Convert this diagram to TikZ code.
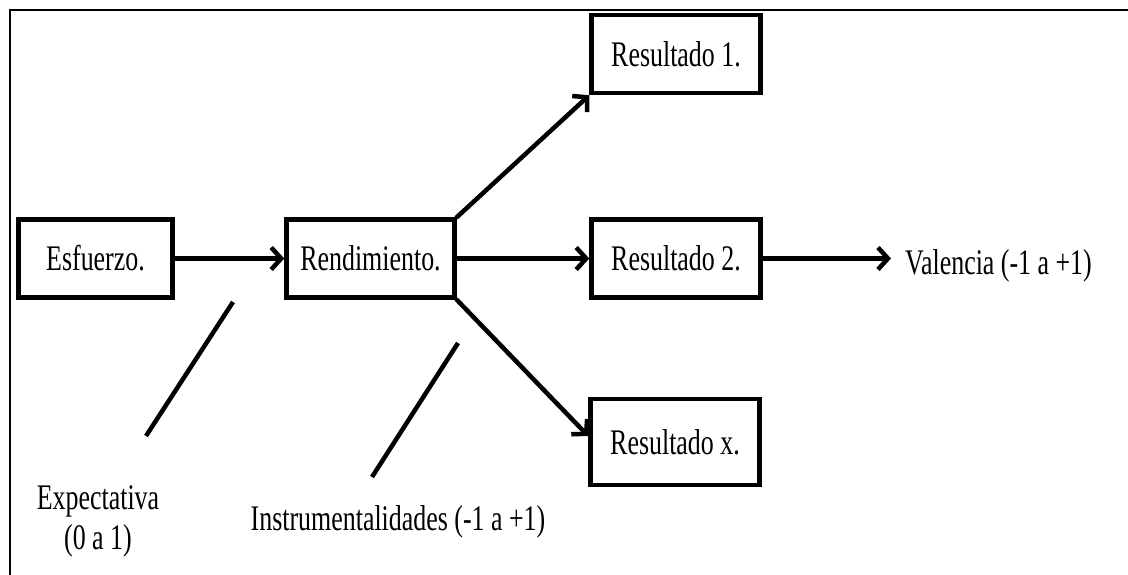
\documentclass[tikz,border=0pt]{standalone}
\usepackage{fontspec}
\setmainfont[FakeStretch=0.72]{Liberation Serif}
\usetikzlibrary{arrows.meta}
\begin{document}
\begin{tikzpicture}[x=1pt,y=-1pt,
  every node/.style={font=\fontsize{36}{40}\selectfont},
  stage/.style={draw,line width=4.5pt,rectangle,minimum height=78pt,inner sep=0pt},
  link/.style={line width=4.5pt,-{Straight Barb[length=10pt,width=22pt,line width=4.5pt]},line cap=round},
  mark line/.style={line width=4.5pt}]
  \useasboundingbox (0,0) rectangle (1128,575);
  % frame, open on the right and at the bottom
  \draw[line width=2pt] (10,575) -- (10,10) -- (1128,10);

  % stages of the model
  \node[stage,minimum width=154pt] (esf) at (95.5,258.5) {Esfuerzo.};
  \node[stage,minimum width=168pt] (ren) at (370.5,258.5) {Rendimiento.};
  \node[stage,minimum width=169pt] (r1) at (676,54) {Resultado 1.};
  \node[stage,minimum width=169pt] (r2) at (676,258.5) {Resultado 2.};
  \node[stage,minimum width=169pt,minimum height=86pt] (rx) at (675,442) {Resultado x.};
  \node[anchor=west,inner sep=0pt] (val) at (905,266) {Valencia (-1 a +1)};

  % links between stages
  \draw[link] (esf.east) -- (ren.west);
  \draw[link] (ren.east) -- (r2.west);
  \draw[link] (ren.north east) -- (r1.south west);
  \draw[link] (ren.south east) -- ([yshift=6pt]rx.west);
  \draw[link] (r2.east) -- ([xshift=-14pt]val.west |- r2.east);

  % pointers to the labels
  \coordinate (e1) at (233,302);
  \coordinate (e2) at (146,436);
  \coordinate (i1) at (458,343);
  \coordinate (i2) at (372,477);
  \draw[mark line] (e1) -- (e2);
  \draw[mark line] (i1) -- (i2);

  \node[align=center] (exp) at (98,521) {Expectativa\\(0 a 1)};
  \node (ins) at (398,522) {Instrumentalidades (-1 a +1)};
\end{tikzpicture}
\end{document}
